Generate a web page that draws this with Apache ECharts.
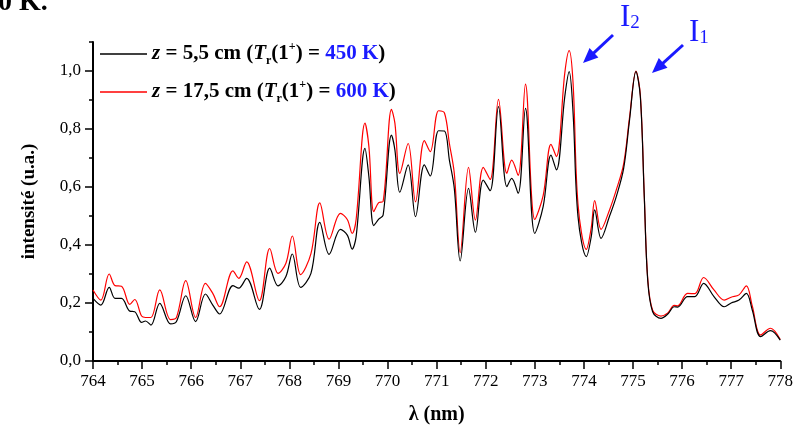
<!DOCTYPE html>
<html><head><meta charset="utf-8">
<script src="https://cdn.jsdelivr.net/npm/echarts@6/dist/echarts.min.js"></script>
<style>html,body{margin:0;padding:0;background:#fff}#c{width:796px;height:432px}</style>
</head><body><div id="c"></div>
<script>
// wavelength (nm)
const lambda = [764.00,764.16,764.33,764.45,764.58,764.75,764.85,764.99,765.07,765.18,765.36,765.58,765.70,765.89,766.09,766.29,766.44,766.58,766.85,766.97,767.13,767.39,767.60,767.77,767.93,768.06,768.23,768.44,768.62,768.81,769.04,769.18,769.28,769.36,769.54,769.62,769.72,769.82,769.91,770.08,770.15,770.25,770.42,770.57,770.75,770.87,771.04,771.16,771.26,771.36,771.48,771.65,771.79,771.95,772.09,772.26,772.43,772.53,772.66,772.81,773.00,773.17,773.33,773.44,773.61,773.70,773.78,773.88,774.05,774.15,774.22,774.35,774.52,774.66,774.81,774.93,775.06,775.15,775.23,775.30,775.40,775.57,775.71,775.84,775.91,776.11,776.26,776.44,776.65,776.86,777.00,777.16,777.31,777.43,777.60,777.80,778.00];
// z = 5,5 cm
const z55 = [0.216,0.193,0.254,0.216,0.216,0.172,0.170,0.133,0.138,0.124,0.199,0.128,0.136,0.225,0.136,0.231,0.193,0.162,0.260,0.251,0.285,0.178,0.320,0.259,0.291,0.369,0.254,0.302,0.478,0.368,0.454,0.434,0.386,0.429,0.733,0.636,0.467,0.489,0.503,0.779,0.728,0.582,0.676,0.498,0.676,0.638,0.794,0.793,0.693,0.595,0.345,0.595,0.444,0.624,0.587,0.877,0.601,0.630,0.578,0.871,0.440,0.532,0.710,0.659,0.911,0.998,0.854,0.498,0.360,0.429,0.521,0.423,0.498,0.567,0.664,0.831,0.998,0.911,0.567,0.279,0.170,0.147,0.162,0.187,0.186,0.222,0.222,0.268,0.222,0.187,0.200,0.210,0.233,0.176,0.084,0.105,0.072];
// z = 17,5 cm
const z175 = [0.245,0.210,0.300,0.260,0.258,0.195,0.212,0.155,0.150,0.150,0.245,0.143,0.150,0.277,0.150,0.268,0.233,0.187,0.311,0.285,0.342,0.208,0.388,0.302,0.337,0.431,0.298,0.370,0.545,0.420,0.509,0.488,0.440,0.488,0.820,0.740,0.515,0.546,0.550,0.868,0.820,0.647,0.750,0.549,0.760,0.722,0.863,0.855,0.750,0.647,0.374,0.668,0.486,0.668,0.626,0.902,0.647,0.693,0.640,0.955,0.488,0.570,0.747,0.705,0.992,1.070,0.957,0.540,0.385,0.460,0.553,0.454,0.520,0.590,0.680,0.840,1.000,0.917,0.570,0.285,0.175,0.155,0.166,0.192,0.190,0.233,0.232,0.288,0.245,0.210,0.220,0.228,0.259,0.190,0.090,0.113,0.074];
const yMajor = [0,0.2,0.4,0.6,0.8,1.0];
const yMinor = [0.1,0.3,0.5,0.7,0.9,1.1];

const serif = 'Liberation Serif';
const blue = '#1a1aff';
const chart = echarts.init(document.getElementById('c'), null, {renderer:'canvas'});

function arrow(x1,y1,x2,y2){
  const dx=x2-x1, dy=y2-y1, L=Math.hypot(dx,dy), ux=dx/L, uy=dy/L;
  const hl=15, hw=6.5;
  const bx=x2-ux*hl, by=y2-uy*hl, px=-uy, py=ux;
  return [
    {type:'line', shape:{x1:x1,y1:y1,x2:bx+ux*2,y2:by+uy*2}, style:{stroke:blue, lineWidth:3}},
    {type:'polygon', shape:{points:[[x2,y2],[bx+px*hw,by+py*hw],[bx-px*hw,by-py*hw]]}, style:{fill:blue}}
  ];
}

const FS = 21;
const rich = {
  i:{fontFamily:serif,fontStyle:'italic',fontWeight:'bold',fontSize:FS,color:'#000',lineHeight:26},
  b:{fontFamily:serif,fontWeight:'bold',fontSize:FS,color:'#000',lineHeight:26},
  sub:{fontFamily:serif,fontWeight:'bold',fontSize:12,color:'#000',verticalAlign:'bottom',lineHeight:12},
  sup:{fontFamily:serif,fontWeight:'bold',fontSize:12,color:'#000',verticalAlign:'top',lineHeight:12},
  bl:{fontFamily:serif,fontWeight:'bold',fontSize:FS,color:blue,lineHeight:26}
};
const legendText = {
  'z55':'{i|z}{b| = 5,5 cm (}{i|T}{sub|r}{b|(1}{sup|+}{b|) = }{bl|450 K}{b|)}',
  'z175':'{i|z}{b| = 17,5 cm (}{i|T}{sub|r}{b|(1}{sup|+}{b|) = }{bl|600 K}{b|)}'
};
const annRich = {
  m:{fontFamily:serif,fontSize:31,color:blue,fill:blue},
  s:{fontFamily:serif,fontSize:19,color:blue,fill:blue,verticalAlign:'bottom'}
};

const option = {
  animation:false,
  backgroundColor:'#fff',
  grid:{left:93,right:13,top:42,bottom:71,containLabel:false},
  legend:{
    orient:'vertical', left:100, top:41, padding:0, itemGap:12, itemWidth:47, itemHeight:1.5,
    icon:'rect', data:['z55','z175'],
    formatter:n=>legendText[n],
    textStyle:{rich:rich, fontFamily:serif, fontSize:FS}
  },
  xAxis:{
    type:'value', min:764, max:778, interval:1,
    name:'λ (nm)', nameLocation:'middle', nameGap:44,
    nameTextStyle:{fontFamily:serif,fontWeight:'bold',fontSize:20,color:'#000'},
    axisLine:{show:true,onZero:false,lineStyle:{color:'#000',width:2}},
    axisTick:{show:true,inside:false,length:8,lineStyle:{color:'#000',width:1.5}},
    minorTick:{show:true,splitNumber:2,length:4,lineStyle:{color:'#000',width:1.5}},
    axisLabel:{fontFamily:serif,fontSize:17,color:'#000',margin:12},
    splitLine:{show:false}
  },
  yAxis:[{
    type:'value', min:0, max:1.1,
    name:'intensité (u.a.)', nameLocation:'middle', nameGap:54,
    nameTextStyle:{fontFamily:serif,fontWeight:'bold',fontSize:19,color:'#000'},
    axisLine:{show:true,lineStyle:{color:'#000',width:2}},
    axisTick:{show:true,inside:false,length:8,customValues:yMajor,lineStyle:{color:'#000',width:1.5}},
    axisLabel:{customValues:yMajor,fontFamily:serif,fontSize:17,color:'#000',margin:12,
      formatter:v=>v.toFixed(1).replace('.',',')},
    splitLine:{show:false}
  },{
    type:'value', min:0, max:1.1, position:'left',
    axisLine:{show:false},
    axisTick:{show:true,inside:false,length:4,customValues:yMinor,lineStyle:{color:'#000',width:1.5}},
    axisLabel:{show:false},
    splitLine:{show:false}
  }],
  series:[
    {name:'z55', type:'line', data:lambda.map((x,i)=>[x,z55[i]]), showSymbol:false, smooth:0.35,
     color:'#000', lineStyle:{color:'#000',width:1.2}, z:3},
    {name:'z175', type:'line', data:lambda.map((x,i)=>[x,z175[i]]), showSymbol:false, smooth:0.35,
     color:'#ff0000', lineStyle:{color:'#ff0000',width:1.2}, z:2}
  ],
  graphic:[
    {type:'text', left:-2, top:-11, style:{text:'0 K.', font:'bold 28px "Liberation Serif"', fill:'#000'}},
    {type:'text', x:620, y:2, style:{rich:annRich, text:'{m|I}{s|2}', fill:blue}},
    {type:'text', x:689, y:17, style:{rich:annRich, text:'{m|I}{s|1}', fill:blue}},
    ...arrow(613,35,583,63),
    ...arrow(683,45,652,73)
  ]
};
chart.setOption(option);
</script></body></html>
